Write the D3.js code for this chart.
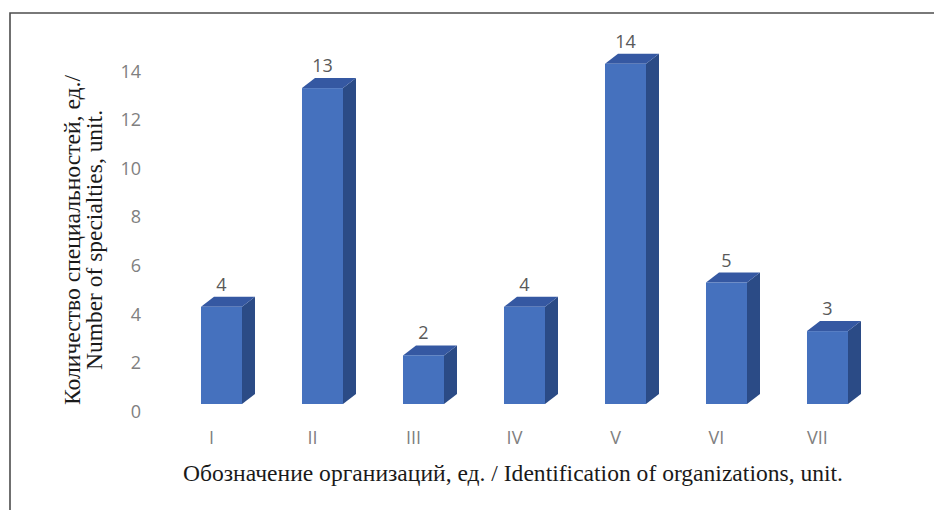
<!DOCTYPE html>
<html>
<head>
<meta charset="utf-8">
<script src="https://cdn.jsdelivr.net/npm/d3@7"></script>
<style>
  body { margin: 0; background: #fff; }
  svg { display: block; }
</style>
</head>
<body>
<div id="chart"></div>
<script>
// data
var categories = ["I", "II", "III", "IV", "V", "VI", "VII"];
var values = [4, 13, 2, 4, 14, 5, 3];
var yTicks = [0, 2, 4, 6, 8, 10, 12, 14];

var width = 934;
var height = 510;

// 3d depth of the bars
var depthX = 13;
var depthY = -10;

var colors = {
  front: "#4571be",
  side: "#2b4b86",
  top: "#3558a2"
};

var svg = d3
  .select("#chart")
  .append("svg")
  .attr("width", width)
  .attr("height", height);

// frame (only left + top visible)
svg.append("path")
  .attr("d", "M10,510 L10,13 L934,13")
  .attr("fill", "none")
  .attr("stroke", "#4d4d4d")
  .attr("stroke-width", 1.6);

var x = d3
  .scaleBand()
  .domain(categories)
  .range([171, 878])
  .paddingInner(0.594)
  .paddingOuter(0.297);

var y = d3
  .scaleLinear()
  .domain([0, 14])
  .range([404, 404 - 14 * 24.3]);

// y axis labels sit on the back wall, a bit lower
var yAxis = d3.axisLeft(y).tickValues(yTicks).tickSize(0).tickPadding(0);
var ga = svg.append("g")
  .attr("transform", "translate(141,7.5)")
  .call(yAxis);
ga.select(".domain").remove();
ga.selectAll("text")
  .attr("fill", "#808080")
  .style("font-family", "'Open Sans', sans-serif")
  .style("font-size", "18px");

// bars
var bars = svg
  .selectAll("g.bar")
  .data(values)
  .enter()
  .append("g")
  .attr("class", "bar");

var bw = x.bandwidth();

// side face
bars.append("path")
  .attr("fill", colors.side)
  .attr("d", function(d, i) {
    var x1 = x(categories[i]) + bw;
    var yt = y(d), yb = y(0);
    return "M" + x1 + "," + yt +
      " L" + (x1 + depthX) + "," + (yt + depthY) +
      " L" + (x1 + depthX) + "," + (yb + depthY) +
      " L" + x1 + "," + yb + "Z";
  });

// top face
bars.append("path")
  .attr("fill", colors.top)
  .attr("d", function(d, i) {
    var x0 = x(categories[i]);
    var yt = y(d);
    return "M" + x0 + "," + yt +
      " L" + (x0 + depthX) + "," + (yt + depthY) +
      " L" + (x0 + bw + depthX) + "," + (yt + depthY) +
      " L" + (x0 + bw) + "," + yt + "Z";
  });

// front face
bars.append("rect")
  .attr("fill", colors.front)
  .attr("x", function(d, i) { return x(categories[i]); })
  .attr("y", function(d) { return y(d); })
  .attr("width", bw)
  .attr("height", function(d) { return y(0) - y(d); });

// value labels
bars.append("text")
  .attr("x", function(d, i) { return x(categories[i]) + bw / 2; })
  .attr("y", function(d) { return y(d) - 16; })
  .attr("text-anchor", "middle")
  .attr("fill", "#595959")
  .style("font-family", "'Open Sans', sans-serif")
  .style("font-size", "18px")
  .text(function(d) { return d; });

// category labels
svg.selectAll("text.cat")
  .data(categories)
  .enter()
  .append("text")
  .attr("class", "cat")
  .attr("x", function(d) { return x(d) + bw / 2 - 10; })
  .attr("y", 444)
  .attr("text-anchor", "middle")
  .attr("fill", "#808080")
  .style("font-family", "'Open Sans', sans-serif")
  .style("font-size", "18px")
  .text(function(d) { return d; });

// axis titles
var serif = "'Liberation Serif', 'Times New Roman', serif";

svg.append("text")
  .attr("x", 513)
  .attr("y", 481)
  .attr("text-anchor", "middle")
  .attr("fill", "#1a1a1a")
  .attr("textLength", 660)
  .attr("lengthAdjust", "spacingAndGlyphs")
  .style("font-family", serif)
  .style("font-size", "24px")
  .text("Обозначение организаций, ед. / Identification of organizations, unit.");

var yt = svg.append("text")
  .attr("transform", "translate(0,240) rotate(-90)")
  .attr("text-anchor", "middle")
  .attr("fill", "#1a1a1a")
  .style("font-family", serif)
  .style("font-size", "24px");
yt.append("tspan").attr("x", 0).attr("y", 80)
  .attr("textLength", 330).attr("lengthAdjust", "spacingAndGlyphs")
  .text("Количество специальностей, ед./");
yt.append("tspan").attr("x", 0).attr("y", 102)
  .attr("textLength", 260).attr("lengthAdjust", "spacingAndGlyphs")
  .text("Number of specialties, unit.");
</script>
</body>
</html>
